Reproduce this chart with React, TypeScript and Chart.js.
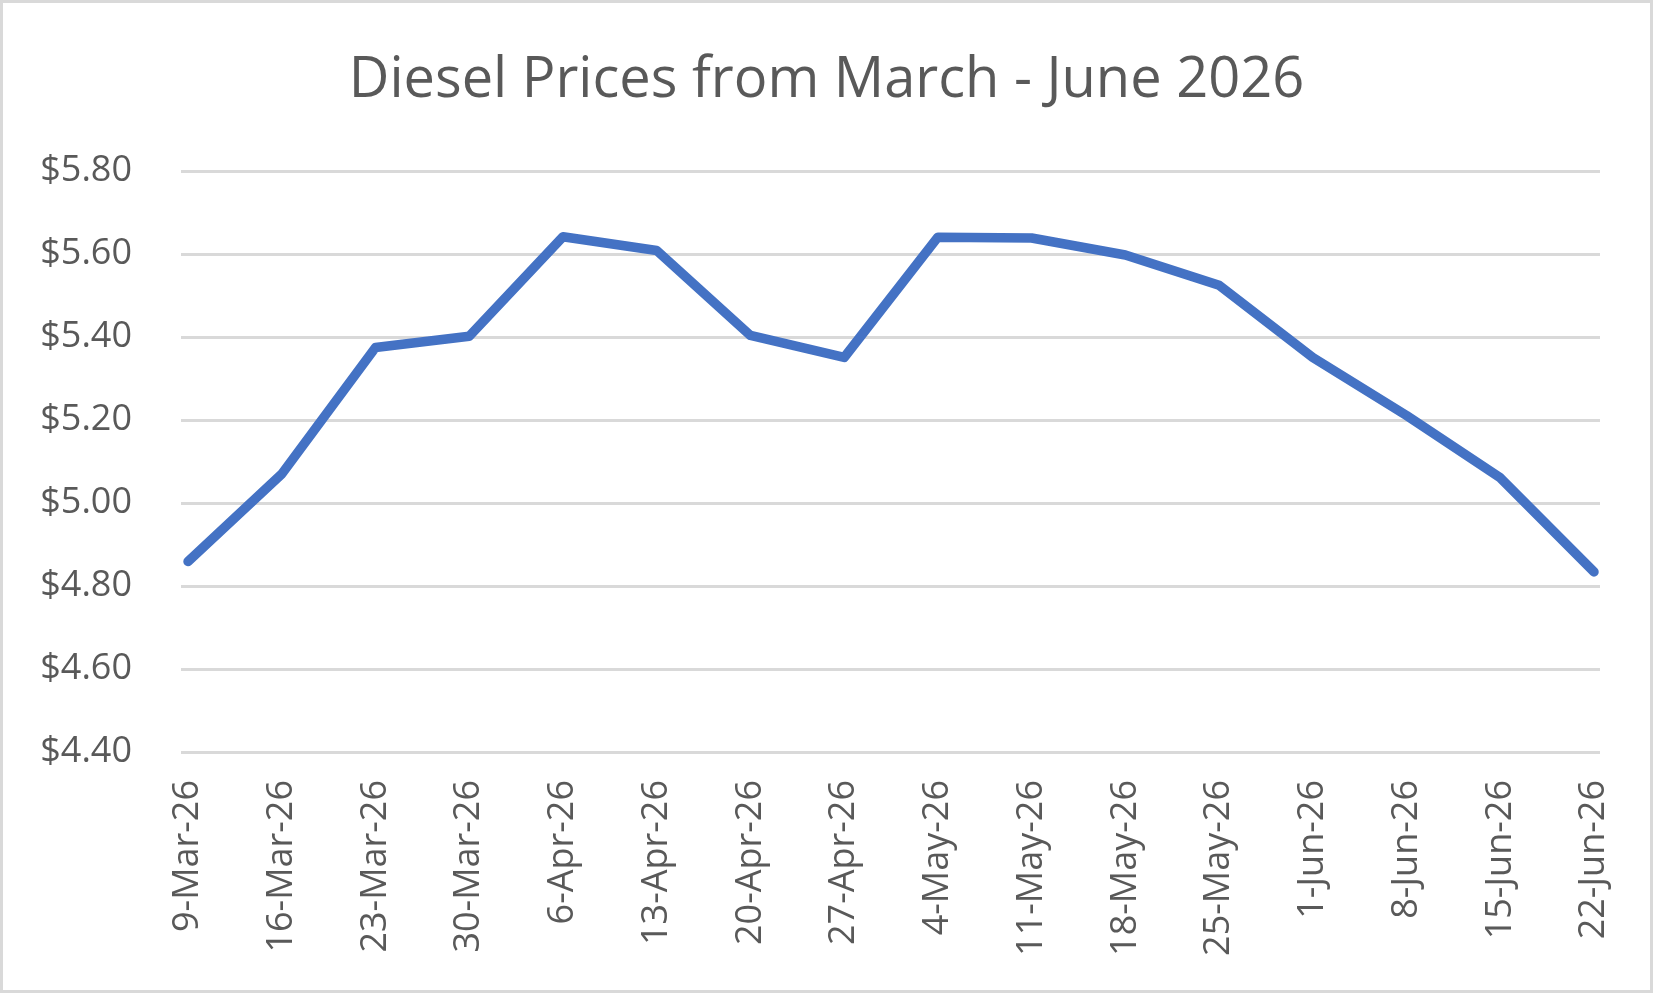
import React, { useEffect, useRef } from "react";
import { Chart, registerables } from "chart.js";

Chart.register(...registerables);

// Weekly diesel prices (USD per gallon)
const weekLabels = [
  "9-Mar-26", "16-Mar-26", "23-Mar-26", "30-Mar-26",
  "6-Apr-26", "13-Apr-26", "20-Apr-26", "27-Apr-26",
  "4-May-26", "11-May-26", "18-May-26", "25-May-26",
  "1-Jun-26", "8-Jun-26", "15-Jun-26", "22-Jun-26",
];
const dieselPrices = [
  4.859, 5.070, 5.375, 5.402,
  5.642, 5.609, 5.404, 5.351,
  5.641, 5.639, 5.598, 5.525,
  5.351, 5.211, 5.061, 4.834,
];
const priceMin = 4.4;
const priceMax = 5.8;
const priceStep = 0.2;
const chartTitle = "Diesel Prices from March - June 2026";

const FONT = "'Open Sans', 'Noto Sans', sans-serif";
const TEXT_COLOR = "#595959";
const GRID_COLOR = "#d9d9d9";

export default function App() {
  const canvasRef = useRef<HTMLCanvasElement | null>(null);

  useEffect(() => {
    const canvas = canvasRef.current;
    if (!canvas) return;
    const points = dieselPrices.map((y, i) => ({ x: i, y }));
    const chart = new Chart(canvas, {
      type: "line",
      data: {
        datasets: [
          {
            label: "Diesel",
            data: points,
            borderColor: "#4472C4",
            backgroundColor: "#4472C4",
            borderWidth: 9.5,
            borderCapStyle: "round",
            borderJoinStyle: "round",
            pointRadius: 0,
            pointHoverRadius: 0,
            tension: 0,
            clip: false,
          },
        ],
      },
      options: {
        responsive: false,
        animation: false,
        events: [],
        layout: { padding: 0 },
        plugins: {
          legend: { display: false },
          tooltip: { enabled: false },
          title: {
            display: true,
            text: chartTitle,
            color: TEXT_COLOR,
            font: { family: FONT, size: 56, weight: "normal", lineHeight: 1.2 },
            padding: { top: 47, bottom: 57 },
          },
        },
        scales: {
          x: {
            type: "linear",
            min: -0.075,
            max: 15.064,
            grid: { display: false, drawTicks: false },
            border: { display: false },
            afterBuildTicks: (scale: any) => {
              scale.ticks = weekLabels.map((_, i) => ({ value: i }));
            },
            afterFit: (scale: any) => {
              scale.height = 241;
              scale.paddingLeft = 0;
              // room between the plot and the right edge of the chart
              scale.paddingRight = 53;
            },
            ticks: {
              autoSkip: false,
              minRotation: 90,
              maxRotation: 90,
              padding: 28,
              color: TEXT_COLOR,
              font: { family: FONT, size: 36 },
              callback: (value: any) => weekLabels[Math.round(Number(value))] ?? "",
            },
          },
          y: {
            min: priceMin,
            max: priceMax,
            grid: { color: GRID_COLOR, lineWidth: 3, drawTicks: false },
            border: { display: false },
            afterFit: (scale: any) => {
              scale.width = 181;
              scale.paddingTop = 0;
              scale.paddingBottom = 0;
            },
            ticks: {
              stepSize: priceStep,
              padding: 49,
              color: TEXT_COLOR,
              font: { family: FONT, size: 36 },
              callback: (value: any) => "$" + Number(value).toFixed(2),
            },
          },
        },
      },
    });
    return () => chart.destroy();
  }, []);

  return (
    <div
      style={{
        position: "fixed",
        left: 0,
        top: 0,
        width: 1653,
        height: 993,
        background: "#ffffff",
      }}
    >
      <canvas
        ref={canvasRef}
        width={1653}
        height={993}
        style={{ position: "absolute", left: 0, top: 0, width: 1653, height: 993 }}
      />
      <div
        style={{
          position: "absolute",
          inset: 0,
          border: "3px solid #d9d9d9",
          boxSizing: "border-box",
          pointerEvents: "none",
        }}
      />
    </div>
  );
}
